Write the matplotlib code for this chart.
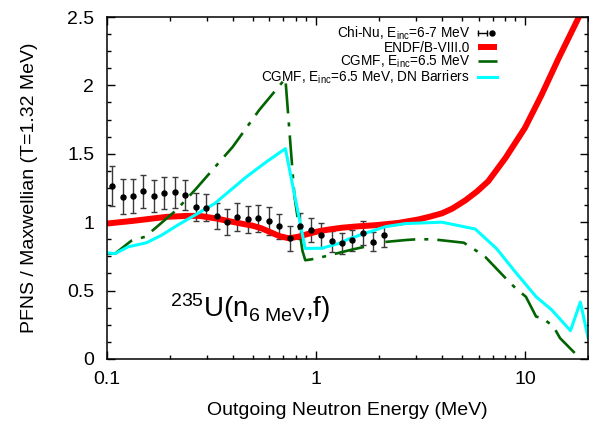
import matplotlib
matplotlib.use("Agg")
import matplotlib.pyplot as plt
from matplotlib.lines import Line2D
from matplotlib.legend_handler import HandlerLine2D, HandlerTuple
from matplotlib.ticker import MultipleLocator, LogLocator, NullFormatter, FormatStrFormatter

plt.rcParams['font.family'] = ['Liberation Sans', 'DejaVu Sans']
plt.rcParams['mathtext.fontset'] = 'custom'
plt.rcParams['mathtext.rm'] = 'Liberation Sans'
plt.rcParams['mathtext.it'] = 'Liberation Sans:italic'
plt.rcParams['lines.scale_dashes'] = False

# Chi-Nu measurement, E_inc = 6-7 MeV
chi_e = [0.106, 0.119, 0.133, 0.149, 0.168, 0.188, 0.211, 0.237, 0.266,
         0.298, 0.335, 0.375, 0.421, 0.473, 0.530, 0.595, 0.668, 0.749,
         0.841, 0.943, 1.06, 1.19, 1.33, 1.49, 1.68, 1.88, 2.11]
chi_r = [1.265, 1.185, 1.19, 1.226, 1.19, 1.214, 1.219, 1.199, 1.109,
         1.107, 1.046, 1.002, 1.039, 1.02, 1.029, 1.01, 0.969, 0.881,
         0.973, 0.942, 0.903, 0.859, 0.845, 0.869, 0.922, 0.856, 0.903]
chi_err = [0.143, 0.128, 0.123, 0.119, 0.117, 0.117, 0.114, 0.112, 0.101,
           0.10, 0.095, 0.094, 0.10, 0.10, 0.10, 0.10, 0.09, 0.088,
           0.094, 0.09, 0.09, 0.08, 0.075, 0.077, 0.088, 0.07, 0.085]

# ENDF/B-VIII.0 evaluation
endf_e = [0.1, 0.134, 0.193, 0.24, 0.278, 0.334, 0.386, 0.44, 0.497, 0.55,
          0.6, 0.67, 0.745, 0.83, 0.93, 1.04, 1.16, 1.34, 1.6, 1.93, 2.49,
          3.09, 3.5, 4.01, 4.5, 5.19, 5.9, 6.68, 8.07, 10.0, 12.0, 14.5,
          18.1, 20.0]
endf_r = [0.99, 1.01, 1.039, 1.046, 1.046, 1.027, 1.007, 0.99, 0.975, 0.955,
          0.93, 0.898, 0.882, 0.895, 0.917, 0.935, 0.947, 0.96, 0.97, 0.978,
          0.995, 1.02, 1.04, 1.065, 1.10, 1.16, 1.225, 1.30, 1.47, 1.69,
          1.93, 2.2, 2.5, 2.62]

# CGMF, E_inc = 6.5 MeV
cgmf_e = [0.1, 0.1095, 0.131, 0.152, 0.170, 0.215, 0.268, 0.328, 0.40,
          0.536, 0.715, 0.79, 0.863, 0.89, 0.95, 1.07, 1.49, 1.71, 1.96,
          2.71, 3.09, 3.67, 5.1, 5.8, 6.45, 8.1, 8.98, 10.1, 11.3, 12.2,
          13.7, 14.7, 18.0, 18.4]
cgmf_r = [0.77, 0.77, 0.864, 0.893, 0.954, 1.088, 1.246, 1.40, 1.55,
          1.82, 2.05, 1.19, 0.79, 0.722, 0.728, 0.745, 0.80, 0.82, 0.85,
          0.87, 0.876, 0.874, 0.85, 0.795, 0.747, 0.589, 0.52, 0.455, 0.31,
          0.297, 0.236, 0.153, 0.017, 0.0]

# CGMF, E_inc = 6.5 MeV, DN barriers
dn_e = [0.1, 0.1095, 0.1268, 0.155, 0.183, 0.218, 0.263, 0.328, 0.464,
        0.579, 0.715, 0.889, 1.07, 1.29, 1.44, 1.73, 2.16, 2.69, 4.01, 5.78,
        7.30, 8.95, 11.3, 13.4, 16.5, 18.4, 20.0]
dn_r = [0.776, 0.77, 0.82, 0.85, 0.905, 0.978, 1.05, 1.136, 1.33, 1.44,
        1.538, 0.808, 0.81, 0.845, 0.878, 0.92, 0.968, 0.99, 1.0, 0.95,
        0.808, 0.64, 0.455, 0.36, 0.207, 0.416, 0.16]

labels = ['Chi-Nu, $\\mathrm{E_{inc}}$=6-7 MeV',
          'ENDF/B-VIII.0',
          'CGMF, $\\mathrm{E_{inc}}$=6.5 MeV',
          'CGMF, $\\mathrm{E_{inc}}$=6.5 MeV, DN Barriers']

fig = plt.figure(figsize=(5.89, 4.25), dpi=100)
ax = fig.add_axes([0.1812, 0.1553, 0.817, 0.8047])

ax.errorbar(chi_e, chi_r, yerr=chi_err, fmt='o', color='black', ms=3.6,
            ecolor='#3a3a3a', elinewidth=1.0, capsize=2.2, capthick=1.0)
ax.plot(endf_e, endf_r, color='#ff0000', lw=4.3, solid_capstyle='butt')
green_ls = (0, (21.6, 6.5, 2.9, 6.5))
ax.plot(cgmf_e, cgmf_r, color='#006400', lw=1.9, ls=green_ls)
ax.plot(dn_e, dn_r, color='#00ffff', lw=2.2)

ax.set_xscale('log')
ax.set_xlim(0.1, 20)
ax.set_ylim(0, 2.5)
ax.set_xticks([0.1, 1, 10])
ax.set_xticklabels(['0.1', '1', '10'])
ax.xaxis.set_minor_locator(LogLocator(base=10, subs=range(2, 10)))
ax.xaxis.set_minor_formatter(NullFormatter())
ax.yaxis.set_major_locator(MultipleLocator(0.5))
ax.yaxis.set_minor_locator(MultipleLocator(0.125))
ax.yaxis.set_major_formatter(FormatStrFormatter('%g'))

ax.tick_params(which='both', direction='in', top=True, right=True,
               labelsize=14, width=1.0)
ax.tick_params(which='major', length=5.5, pad=9)
ax.tick_params(which='minor', length=3)
for s in ax.spines.values():
    s.set_linewidth(1.1)

ax.set_xlabel('Outgoing Neutron Energy (MeV)', fontsize=14, labelpad=10)
ax.set_ylabel('PFNS / Maxwellian (T=1.32 MeV)', fontsize=14, labelpad=21)

ax.text(0.2, 0.31, '$^{235}$U(n$_{6\\ \\mathrm{MeV}}$,f)', fontsize=20,
        va='baseline', ha='left')

# legend keys
bar_key = Line2D([], [], color='black', lw=1.0, marker='|', ms=5, mew=1.0)
dot_key = Line2D([], [], color='black', ls='none', marker='o', ms=3.6)
endf_key = Line2D([], [], color='#ff0000', lw=4.3, solid_capstyle='butt')
cgmf_key = Line2D([], [], color='#006400', lw=1.9, ls=green_ls)
dn_key = Line2D([], [], color='#00ffff', lw=2.2)
hmap = {bar_key: HandlerLine2D(numpoints=2, marker_pad=0),
        dot_key: HandlerLine2D(numpoints=1),
        tuple: HandlerTuple(ndivide=None)}
ax.legend([(bar_key, dot_key), endf_key, cgmf_key, dn_key], labels,
          handler_map=hmap, markerfirst=False, frameon=False, fontsize=9.8,
          loc='upper right', bbox_to_anchor=(0.811, 0.977),
          borderaxespad=0, borderpad=0, labelspacing=-0.1,
          handlelength=1.4, handletextpad=0.6)

fig.savefig('out.png', dpi=100)
